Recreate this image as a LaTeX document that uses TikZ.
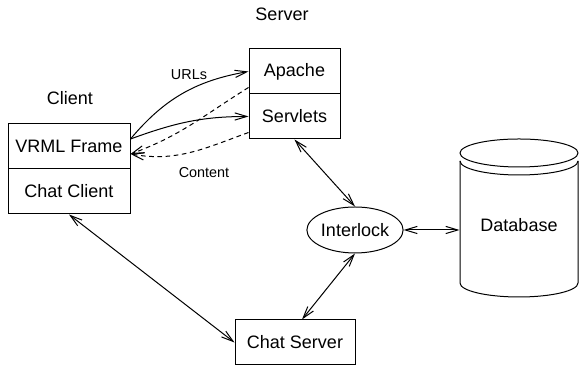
\documentclass[tikz,border=0pt]{standalone}
\usepackage{fontspec}
\setmainfont{Liberation Sans}
\usetikzlibrary{calc}
\usetikzlibrary{positioning}
\usetikzlibrary{shapes.geometric}
\usetikzlibrary{arrows.meta}
\tikzstyle{boxnode} = [draw, rectangle, minimum height=22.5pt, inner sep=0, align=center]
\tikzstyle{ellnode} = [draw, ellipse, minimum width=45pt, minimum height=23pt, inner sep=0]
\tikzstyle{lblnode} = [inner sep=0]
\tikzstyle{smalllbl} = [inner sep=0, font=\fontsize{7.2}{9}\selectfont]
\tikzstyle{link} = [-{Straight Barb[length=6pt,width=3.6pt]}]
\tikzstyle{bilink} = [{Straight Barb[length=6pt,width=3.6pt]}-{Straight Barb[length=6pt,width=3.6pt]}]
\tikzstyle{retlink} = [link, dashed, dash pattern=on 2.3pt off 1.8pt]

\begin{document}
\begin{tikzpicture}[x=0.5pt, y=0.5pt, line width=0.5pt, font=\fontsize{9}{11}\selectfont]
    \useasboundingbox (0,0) rectangle (579,368);
    \node[lblnode] (server_lbl) at (282,354) {Server};
    \node[boxnode, minimum width=45.5pt] (apache) at (294.5,296.5) {Apache};
    \node[boxnode, minimum width=45.5pt] (servlets) at ($(apache)+(0,-45)$) {Servlets};
    \node[lblnode] (client_lbl) at (70,270) {Client};
    \node[boxnode, minimum width=61pt] (vrml) at (69,221.5) {VRML Frame};
    \node[boxnode, minimum width=61pt] (chatclient) at ($(vrml)+(0,-45)$) {Chat Client};
    \node[ellnode] (interlock) at (355,138) {Interlock};
    \node[boxnode, minimum width=60pt] (chatserver) at (295,25.5) {Chat Server};
    \node[lblnode, minimum width=59pt] (database) at (519,143) {Database};
    % database drum
    \draw (519,215) ellipse [x radius=29.5pt, y radius=7pt];
    \draw (460,207) arc [start angle=180, end angle=360, x radius=29.5pt, y radius=7pt];
    \draw (460,207) -- (460,85) arc [start angle=180, end angle=360, x radius=29.5pt, y radius=7pt] -- (578,207);
    % requests and replies
    \draw[link] ($(vrml.east)+(0,7.5)$) to[out=50, in=190] (apache.west);
    \draw[link] ($(vrml.east)+(0,7.5)$) to[out=20, in=180] (servlets.west);
    \draw[retlink] ($(apache.south west)+(0,7)$) to[out=212, in=20] ($(vrml.east)+(0,-7.5)$);
    \draw[retlink] ($(servlets.south west)+(0,7)$) to[out=200, in=-10] ($(vrml.east)+(0,-7.5)$);
    \node[smalllbl] (urls_lbl) at (189,293.5) {URLs};
    \node[smalllbl] (content_lbl) at (204,195.5) {Content};
    \draw[bilink] (servlets.south) -- (interlock.north);
    \draw[bilink] (interlock.east) -- (interlock.east -| database.west);
    \draw[bilink] (interlock.south) -- ([xshift=3.5pt]chatserver.north);
    \draw[bilink] (chatclient.south) -- (chatserver.west);
\end{tikzpicture}
\end{document}
